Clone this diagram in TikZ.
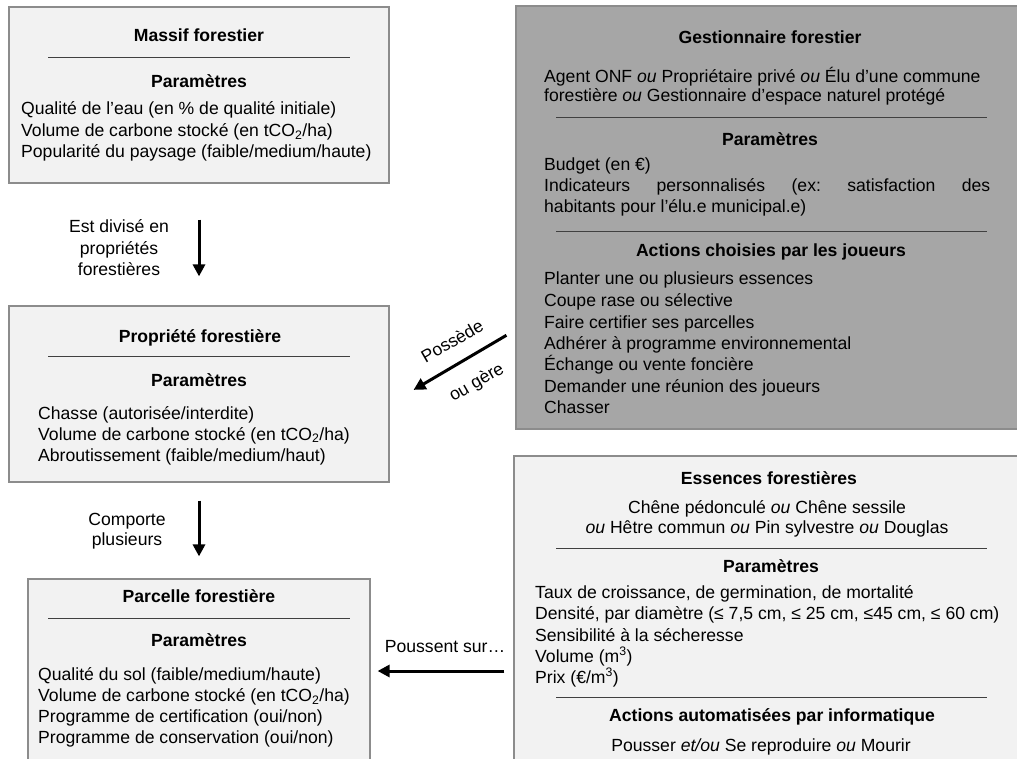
\documentclass[tikz,border=0pt]{standalone}
\usepackage{fontspec}
\setmainfont{Liberation Sans}
\usetikzlibrary{arrows.meta}
\definecolor{boxline}{HTML}{8C8C8C}
\definecolor{lightfill}{HTML}{F2F2F2}
\definecolor{darkfill}{HTML}{A6A6A6}
\newcommand{\dgfont}{\fontsize{17.6}{21}\selectfont}
\frenchspacing
\begin{document}
\begin{tikzpicture}[x=1pt,y=-1pt,
  box/.style={draw=boxline, line width=1.2pt, rectangle, inner sep=0},
  lt/.style={anchor=base west, inner sep=0, font=\dgfont},
  ct/.style={anchor=base, inner sep=0, font=\dgfont},
  ttl/.style={anchor=base, inner sep=0, font=\dgfont\bfseries},
  sep/.style={line width=1pt, draw=black!75},
  arr/.style={line width=3pt, -{Triangle[width=12pt,length=12pt]}},
]
\useasboundingbox (0,0) rectangle (1017,759);
\clip (0,0) rectangle (1017,759);
\fill[white] (0,0) rectangle (1017,759);

% boxes
\node[box, fill=lightfill, minimum width=380pt, minimum height=176pt] (massif) at (199,95) {};
\node[box, fill=lightfill, minimum width=380pt, minimum height=176pt] (prop) at (199,394) {};
\node[box, fill=lightfill, minimum width=342pt, minimum height=222pt] (parc) at (199,690) {};
\node[box, fill=darkfill, minimum width=514pt, minimum height=423pt] (gest) at (773,217.5) {};
\node[box, fill=lightfill, minimum width=516pt, minimum height=344pt] (ess) at (772,628) {};

% Massif forestier
\node[ttl] (mt) at (199,42) {Massif forestier};
\draw[sep] (48,58) -- (350,58);
\node[ttl] (mp) at (199,88) {Paramètres};
\node[lt] (m1) at (21,115) {Qualité de l’eau (en \% de qualité initiale)};
\node[lt] (m2) at (21,137) {Volume de carbone stocké (en tCO\textsubscript{2}/ha)};
\node[lt] (m3) at (21,158) {Popularité du paysage (faible/medium/haute)};

% arrow 1
\node[ct] (a1a) at (119,233) {Est divisé en};
\node[ct] (a1b) at (119,254.5) {propriétés};
\node[ct] (a1c) at (119,276) {forestières};
\draw[arr, shorten <=36pt, shorten >=29pt] (massif.south) -- (prop.north);

% Propriete forestiere
\node[ttl] (pt) at (200,342) {Propriété forestière};
\draw[sep] (48,356) -- (350,356);
\node[ttl] (pp) at (199,386) {Paramètres};
\node[lt] (p1) at (38,419) {Chasse (autorisée/interdite)};
\node[lt] (p2) at (38,440) {Volume de carbone stocké (en tCO\textsubscript{2}/ha)};
\node[lt] (p3) at (38,461) {Abroutissement (faible/medium/haut)};

% arrow 2
\node[ct] (a2a) at (127,525) {Comporte};
\node[ct] (a2b) at (127,545) {plusieurs};
\draw[arr, shorten <=18pt, shorten >=22pt] (prop.south) -- (parc.north);

% Parcelle forestiere
\node[ttl] (ct1) at (199,602) {Parcelle forestière};
\draw[sep] (48,618) -- (350,618);
\node[ttl] (cp) at (199,646) {Paramètres};
\node[lt] (c1) at (38,680) {Qualité du sol (faible/medium/haute)};
\node[lt] (c2) at (38,701.5) {Volume de carbone stocké (en tCO\textsubscript{2}/ha)};
\node[lt] (c3) at (38,722.5) {Programme de certification (oui/non)};
\node[lt] (c4) at (38,743.5) {Programme de conservation (oui/non)};

% arrow 3
\coordinate (y3) at (0,671);
\node[ct] (a3) at (445,652) {Poussent sur…};
\draw[arr, shorten <=9pt, shorten >=7pt] (ess.west |- y3) -- (parc.east |- y3);

% arrow 4
\coordinate (pa) at (0,330);
\coordinate (pb) at (0,404);
\draw[arr, shorten <=10.4pt, shorten >=27.8pt] (gest.west |- pa) -- (prop.east |- pb);
\node[inner sep=0, font=\dgfont, rotate=30] (a4a) at (452,341) {Possède};
\node[inner sep=0, font=\dgfont, rotate=30] (a4b) at (477,383) {ou gère};

% Gestionnaire forestier
\node[ttl] (gt) at (770,44) {Gestionnaire forestier};
\node[lt] (g1) at (544,83) {Agent ONF \textit{ou} Propriétaire privé \textit{ou} Élu d’une commune};
\node[lt] (g2) at (544,102) {forestière \textit{ou} Gestionnaire d’espace naturel protégé};
\draw[sep] (556,118) -- (987,118);
\node[ttl] (gp) at (770,146) {Paramètres};
\node[lt] (g3) at (544,171) {Budget (en €)};
\node[lt] (g4) at (544,192) {\makebox[446pt][s]{Indicateurs personnalisés (ex: satisfaction des}};
\node[lt] (g5) at (544,213) {habitants pour l’élu.e municipal.e)};
\draw[sep] (556,232) -- (987,232);
\node[ttl] (ga) at (771,257) {Actions choisies par les joueurs};
\node[lt] (g6) at (544,284) {Planter une ou plusieurs essences};
\node[lt] (g7) at (544,306) {Coupe rase ou sélective};
\node[lt] (g8) at (544,328) {Faire certifier ses parcelles};
\node[lt] (g9) at (544,349) {Adhérer à programme environnemental};
\node[lt] (g10) at (544,370) {Échange ou vente foncière};
\node[lt] (g11) at (544,392) {Demander une réunion des joueurs};
\node[lt] (g12) at (544,413) {Chasser};

% Essences forestieres
\node[ttl] (et) at (769,484) {Essences forestières};
\node[ct] (e1) at (767,513) {Chêne pédonculé \textit{ou} Chêne sessile};
\node[ct] (e2) at (767,533) {\textit{ou} Hêtre commun \textit{ou} Pin sylvestre \textit{ou} Douglas};
\draw[sep] (556,548) -- (987,548);
\node[ttl] (ep) at (771,572) {Paramètres};
\node[lt] (e3) at (535,598) {Taux de croissance, de germination, de mortalité};
\node[lt] (e4) at (535,619) {Densité, par diamètre (≤ 7,5 cm, ≤ 25 cm, ≤45 cm, ≤ 60 cm)};
\node[lt] (e5) at (535,641) {Sensibilité à la sécheresse};
\node[lt] (e6) at (535,662) {Volume (m\textsuperscript{3})};
\node[lt] (e7) at (535,683) {Prix (€/m\textsuperscript{3})};
\draw[sep] (556,697) -- (987,697);
\node[ttl] (ea) at (772,721) {Actions automatisées par informatique};
\node[ct] (e8) at (761,751) {Pousser \textit{et/ou} Se reproduire \textit{ou} Mourir};
\end{tikzpicture}
\end{document}
